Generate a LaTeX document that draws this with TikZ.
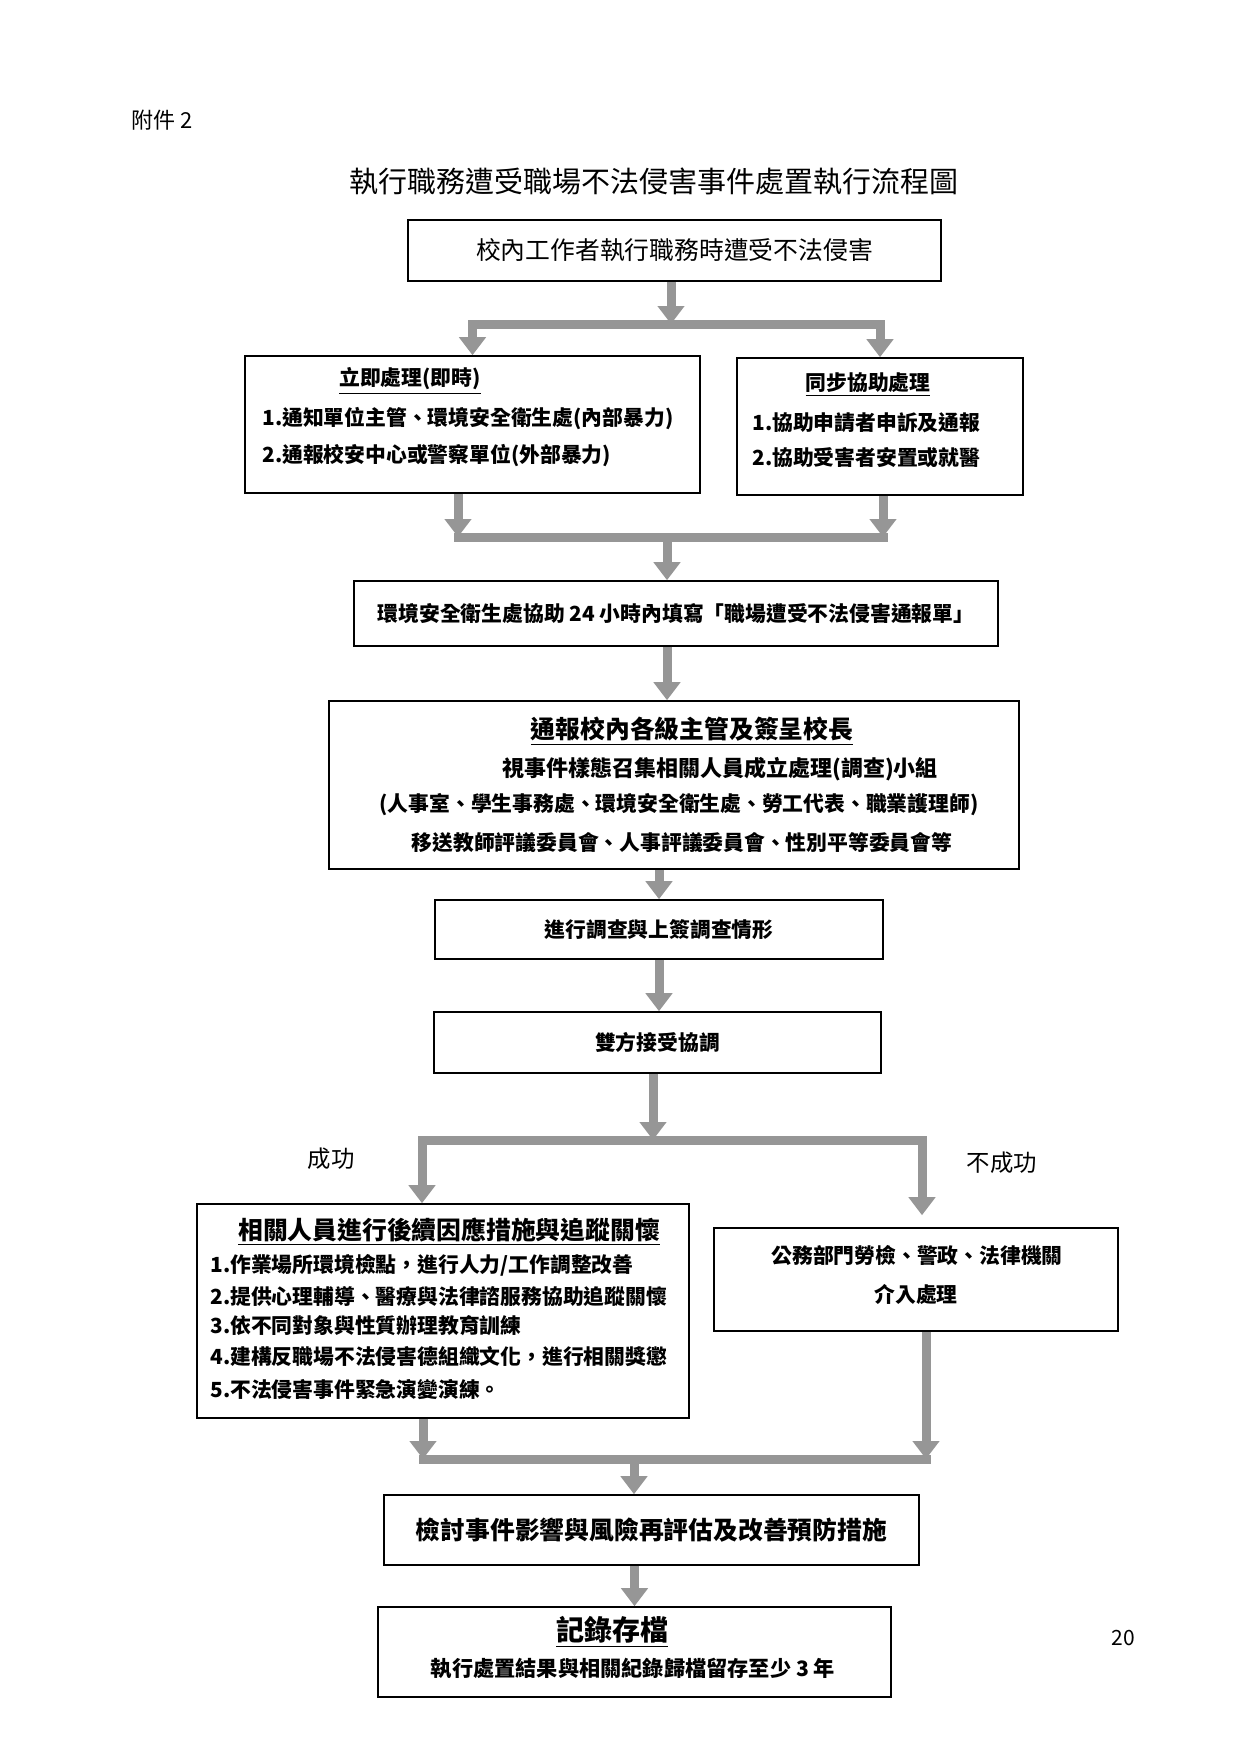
\documentclass[tikz,border=0pt]{standalone}
\usepackage{fontspec}
\setmainfont{Noto Sans CJK TC}
\usetikzlibrary{arrows.meta}
\definecolor{arrgray}{RGB}{150,150,150}

\begin{document}
\begin{tikzpicture}[x=0.5pt,y=-0.5pt,
    box/.style={draw, line width=0.8pt, inner sep=0pt},
    arr/.style={draw=arrgray, line width=4.5pt, -{Triangle[width=13pt,length=9pt]}},
    bar/.style={draw=arrgray, line width=4.5pt, line cap=rect},
    txt/.style={font=\fontsize{10.4}{12}\selectfont\bfseries, inner sep=0pt},
    head/.style={font=\fontsize{12.4}{14}\selectfont\bfseries, inner sep=0pt},
    lab/.style={font=\fontsize{11.7}{13}\selectfont, inner sep=0pt}]

        \path[fill=white, use as bounding box] (0,0) rectangle (1240,1753);

        %%% title %%%
        \node[lab, anchor=west, font=\fontsize{11}{13}\selectfont] (att) at (131,120) {附件 2};
        \node[lab, font=\fontsize{14.5}{17}\selectfont] (title) at (654,181) {執行職務遭受職場不法侵害事件處置執行流程圖};
        \node[lab, font=\fontsize{10.5}{12}\selectfont] (page) at (1123,1638) {20};

        %%% boxes %%%
        \node[box, minimum width=266.5pt, minimum height=30.5pt, font=\fontsize{12.4}{14}\selectfont] (A) at (674.5,250.5) {校內工作者執行職務時遭受不法侵害};
        \node[box, minimum width=227.5pt, minimum height=68.5pt] (B) at (472.5,424.5) {};
        \node[box, minimum width=143pt, minimum height=68.5pt] (C) at (880,426.5) {};
        \node[box, txt, minimum width=322pt, minimum height=32.5pt] (D) at (676,613.5) {環境安全衛生處協助 24 小時內填寫「職場遭受不法侵害通報單」};
        \node[box, minimum width=345pt, minimum height=84pt] (E) at (674,785) {};
        \node[box, txt, minimum width=224pt, minimum height=29.5pt] (F) at (659,929.5) {進行調查與上簽調查情形};
        \node[box, txt, minimum width=223.5pt, minimum height=30.5pt] (G) at (657.5,1042.5) {雙方接受協調};
        \node[box, minimum width=246pt, minimum height=107pt] (H) at (443,1311) {};
        \node[box, minimum width=202pt, minimum height=51.5pt] (I) at (916,1279.5) {};
        \node[box, head, minimum width=267.5pt, minimum height=35pt] (J) at (651.5,1530) {檢討事件影響與風險再評估及改善預防措施};
        \node[box, minimum width=256.5pt, minimum height=45pt] (K) at (634.5,1652) {};

        %%% box texts %%%
        \node[txt] (B0) at (410,381) {\underline{立即處理(即時)}};
        \node[txt, anchor=west] (B1) at (262,419) {1.通知單位主管、環境安全衛生處(內部暴力)};
        \node[txt, anchor=west] (B2) at (262,456) {2.通報校安中心或警察單位(外部暴力)};

        \node[txt] (C0) at (868,385) {\underline{同步協助處理}};
        \node[txt, anchor=west] (C1) at (752,423) {1.協助申請者申訴及通報};
        \node[txt, anchor=west] (C2) at (752,458) {2.協助受害者安置或就醫};

        \node[head] (E0) at (692,731) {\underline{通報校內各級主管及簽呈校長}};
        \node[txt, font=\fontsize{11}{13}\selectfont\bfseries] (E1) at (720,769) {視事件樣態召集相關人員成立處理(調查)小組};
        \node[txt] (E2) at (679,805) {(人事室、學生事務處、環境安全衛生處、勞工代表、職業護理師)};
        \node[txt] (E3) at (682,843) {移送教師評議委員會、人事評議委員會、性別平等委員會等};

        \node[head] (H0) at (449,1232) {\underline{相關人員進行後續因應措施與追蹤關懷}};
        \node[txt, anchor=west] (H1) at (210,1265) {1.作業場所環境檢點，進行人力/工作調整改善};
        \node[txt, anchor=west] (H2) at (210,1296) {2.提供心理輔導、醫療與法律諮服務協助追蹤關懷};
        \node[txt, anchor=west] (H3) at (210,1326) {3.依不同對象與性質辦理教育訓練};
        \node[txt, anchor=west] (H4) at (210,1357) {4.建構反職場不法侵害德組織文化，進行相關獎懲};
        \node[txt, anchor=west] (H5) at (210,1389) {5.不法侵害事件緊急演變演練。};

        \node[txt] (I1) at (917,1255) {公務部門勞檢、警政、法律機關};
        \node[txt] (I2) at (916,1294) {介入處理};

        \node[txt, font=\fontsize{14}{16}\selectfont\bfseries] (K0) at (612,1632) {\underline{記錄存檔}};
        \node[txt, font=\fontsize{10.6}{12}\selectfont\bfseries] (K1) at (633,1669) {執行處置結果與相關紀錄歸檔留存至少 3 年};

        %%% branch labels %%%
        \node[lab] (ok) at (331,1159) {成功};
        \node[lab] (fail) at (1002,1163) {不成功};

        %%% bar points %%%
        \coordinate (b1) at (671,324);
        \coordinate (b2l) at (458,537);
        \coordinate (b2r) at (883,537);
        \coordinate (b2m) at (667,537);
        \coordinate (b3l) at (422,1140);
        \coordinate (b3r) at (922,1140);
        \coordinate (b3m) at (653,1140);
        \coordinate (b4l) at (423,1459);
        \coordinate (b4r) at (926,1459);
        \coordinate (b4m) at (634,1459);

        %%% connectors %%%
        \draw[arr] (A.south -| b1) -- (b1);
        \draw[arr] (C.north |- b1) -- (B.north |- b1) -- (B.north);
        \draw[arr] (B.north |- b1) -- (C.north |- b1) -- (C.north);

        \draw[bar] (b2l) -- (b2r);
        \draw[arr] (B.south -| b2l) -- (b2l);
        \draw[arr] (C.south -| b2r) -- (b2r);
        \draw[arr] (b2m) -- (D.north -| b2m);

        \draw[arr] (D.south -| b2m) -- (E.north -| b2m);
        \draw[arr] (E.south -| F.north) -- (F.north);
        \draw[arr] (F.south) -- (G.north -| F.south);
        \draw[arr] (G.south -| b3m) -- (b3m);

        \draw[arr] (b3r) -- (b3l) -- (H.north -| b3l);
        \draw[arr, shorten >=6pt] (b3l) -- (b3r) -- (I.north -| b3r);

        \draw[bar] (b4l) -- (b4r);
        \draw[arr] (H.south -| b4l) -- (b4l);
        \draw[arr] (I.south -| b4r) -- (b4r);
        \draw[arr] (b4m) -- (J.north -| b4m);
        \draw[arr] (J.south -| K.north) -- (K.north);

\end{tikzpicture}
\end{document}
